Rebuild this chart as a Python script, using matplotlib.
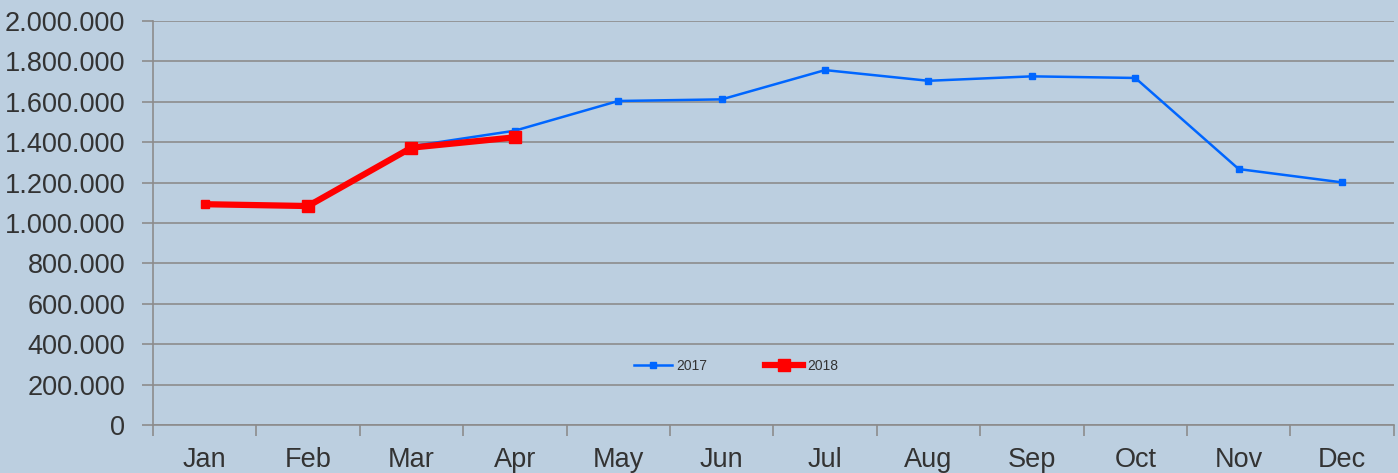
import matplotlib
matplotlib.use('Agg')
import matplotlib.pyplot as plt
from matplotlib.ticker import FuncFormatter, FixedLocator
import numpy as np

months = ['Jan', 'Feb', 'Mar', 'Apr', 'May', 'Jun', 'Jul', 'Aug', 'Sep', 'Oct', 'Nov', 'Dec']
values_2017 = [1093000, 1084000, 1380000, 1457000, 1604000, 1612000,
               1757000, 1704000, 1726000, 1718000, 1267000, 1201000]
values_2018 = [1093000, 1084000, 1373000, 1424000]

plt.rcParams['font.family'] = ['Liberation Sans', 'DejaVu Sans']

bg = '#bccfe0'
grid_c = '#8c8c8c'
text_c = '#333333'

fig = plt.figure(figsize=(13.98, 4.73), dpi=100, facecolor=bg)
ax = fig.add_axes([0.1094, 0.1015, 0.8876, 0.8541], facecolor=bg)

x = np.arange(len(months))
ax.plot(x, values_2017, color='#0066ff', lw=1.8, marker='s', markersize=4.5, label='2017', zorder=3)
# first 2018 point shows almost no marker in the original
ax.plot(x[:len(values_2018)], values_2018, color='#ff0000', lw=4.5, marker='s', markersize=8.5,
        markevery=[1, 2, 3], label='2018', zorder=4)
ax.plot(x[:1], values_2018[:1], color='#ff0000', marker='s', markersize=5.5, lw=0, zorder=4)

ax.set_xlim(-0.5, len(months) - 0.5)
ax.set_ylim(0, 2000000)
ax.set_yticks(np.arange(0, 2000001, 200000))
ax.yaxis.set_major_formatter(FuncFormatter(lambda v, p: f'{int(v):,}'.replace(',', '.')))
ax.grid(axis='y', color=grid_c, lw=1.2)
ax.set_axisbelow(True)

ax.set_xticks(x)
ax.set_xticklabels(months)
ax.xaxis.set_minor_locator(FixedLocator(np.arange(-0.5, len(months), 1.0)))
ax.tick_params(axis='x', which='major', length=0, pad=16, labelsize=19.5, labelcolor=text_c)
ax.tick_params(axis='x', which='minor', length=8, color=grid_c, width=1.2)
ax.tick_params(axis='y', length=8, color=grid_c, width=1.2, labelsize=19.5, labelcolor=text_c, pad=12)

for s in ['top', 'right']:
    ax.spines[s].set_visible(False)
for s in ['left', 'bottom']:
    ax.spines[s].set_color(grid_c)
    ax.spines[s].set_linewidth(1.2)

leg = ax.legend(loc='center', bbox_to_anchor=(0.47, 0.146), ncol=2, frameon=False,
                fontsize=10, handlelength=2.7, columnspacing=4.2, handletextpad=0.3)
for t in leg.get_texts():
    t.set_color(text_c)

fig.savefig('out.png', dpi=100, facecolor=bg)
